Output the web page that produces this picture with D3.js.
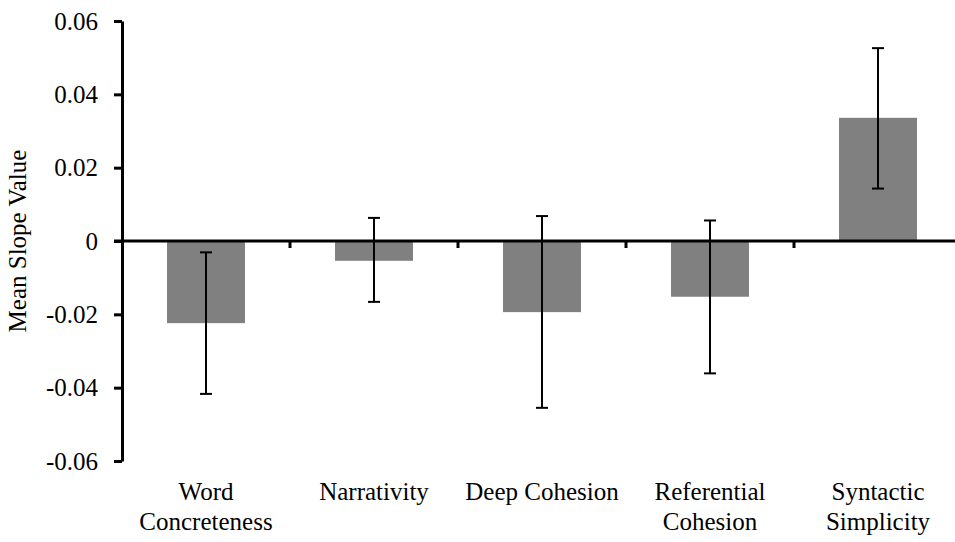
<!DOCTYPE html>
<html>
<head>
<meta charset="utf-8">
<script src="https://cdn.jsdelivr.net/npm/d3@7"></script>
<style>
  body { margin: 0; background: #fff; }
  text { font-family: "Liberation Serif", "Times New Roman", serif; fill: #000; }
</style>
</head>
<body>
<svg id="chart" width="955" height="542"></svg>
<script>
// measures along the x axis, one label line per entry
const categories = ['Word Concreteness', 'Narrativity', 'Deep Cohesion', 'Referential Cohesion', 'Syntactic Simplicity'];
const labelLines = [['Word', 'Concreteness'], ['Narrativity'], ['Deep Cohesion'], ['Referential', 'Cohesion'], ['Syntactic', 'Simplicity']];
const means = [-0.0224, -0.0054, -0.0194, -0.0152, 0.0336];
const errHigh = [-0.0031, 0.0063, 0.0068, 0.0056, 0.0526];
const errLow = [-0.0417, -0.0166, -0.0455, -0.0361, 0.0143];
const yTicks = [-0.06, -0.04, -0.02, 0, 0.02, 0.04, 0.06];

const svg = d3.select('#chart');
const mLeft = 122, mTop = 21, plotH = 440, bandW = 168;
const fs = '25px';

const x = d3.scaleBand()
    .domain(categories)
    .range([mLeft, mLeft + bandW * categories.length])
    .paddingInner(0.536)
    .paddingOuter(0.268);
const y = d3.scaleLinear().domain([-0.06, 0.06]).range([mTop + plotH, mTop]);

const rows = categories.map((c, i) => ({ c, v: means[i], hi: errHigh[i], lo: errLow[i], lines: labelLines[i] }));

// bars
svg.append('g').selectAll('rect')
    .data(rows)
    .enter()
    .append('rect')
        .attr('x', d => x(d.c))
        .attr('width', x.bandwidth())
        .attr('y', d => y(Math.max(0, d.v)))
        .attr('height', d => Math.abs(y(d.v) - y(0)))
        .style('fill', '#808080');

// error bars
const eb = svg.append('g').selectAll('g')
    .data(rows)
    .enter()
    .append('g')
    .attr('stroke', '#000')
    .attr('stroke-width', 2);
eb.append('line')
    .attr('x1', d => x(d.c) + x.bandwidth() / 2)
    .attr('x2', d => x(d.c) + x.bandwidth() / 2)
    .attr('y1', d => y(d.hi))
    .attr('y2', d => y(d.lo));
eb.selectAll('.cap')
    .data(d => [d.hi, d.lo].map(v => ({ c: d.c, v })))
    .enter()
    .append('line')
        .attr('class', 'cap')
        .attr('x1', d => x(d.c) + x.bandwidth() / 2 - 6)
        .attr('x2', d => x(d.c) + x.bandwidth() / 2 + 6)
        .attr('y1', d => y(d.v))
        .attr('y2', d => y(d.v));

// y axis
const yAxis = svg.append('g')
    .attr('transform', `translate(${mLeft},0)`)
    .call(d3.axisLeft(y).tickValues(yTicks).tickSize(8).tickSizeOuter(0)
        .tickFormat(d => d === 0 ? '0' : d3.format('.2f')(d).replace('\u2212', '-')));
yAxis.select('.domain').attr('stroke-width', 3);
yAxis.selectAll('.tick line').attr('stroke-width', 3);
yAxis.selectAll('.tick text')
    .attr('x', -24)
    .attr('dy', '0.32em')
    .style('font-size', fs)
    .style('font-family', '"Liberation Serif", serif');

// zero line with band boundary ticks
const zero = svg.append('g');
zero.append('line')
    .attr('x1', mLeft - 8).attr('x2', 955)
    .attr('y1', y(0)).attr('y2', y(0))
    .attr('stroke', '#000').attr('stroke-width', 3);
zero.selectAll('.bt')
    .data(categories.slice(1))
    .enter()
    .append('line')
        .attr('class', 'bt')
        .attr('x1', d => x(d) - x.step() * 0.268)
        .attr('x2', d => x(d) - x.step() * 0.268)
        .attr('y1', y(0)).attr('y2', y(0) + 7)
        .attr('stroke', '#000').attr('stroke-width', 3);

// category labels
const lab = svg.append('g').selectAll('text')
    .data(rows)
    .enter()
    .append('text')
        .attr('text-anchor', 'middle')
        .style('font-size', fs);
lab.selectAll('tspan')
    .data(d => d.lines.map(t => ({ t, cx: x(d.c) + x.bandwidth() / 2 })))
    .enter()
    .append('tspan')
        .attr('x', d => d.cx)
        .attr('y', (d, i) => 500 + i * 30)
        .text(d => d.t);

// y title
svg.append('text')
    .attr('transform', `translate(26,${y(0)}) rotate(-90)`)
    .attr('text-anchor', 'middle')
    .style('font-size', fs)
    .text('Mean Slope Value');
</script>
</body>
</html>
